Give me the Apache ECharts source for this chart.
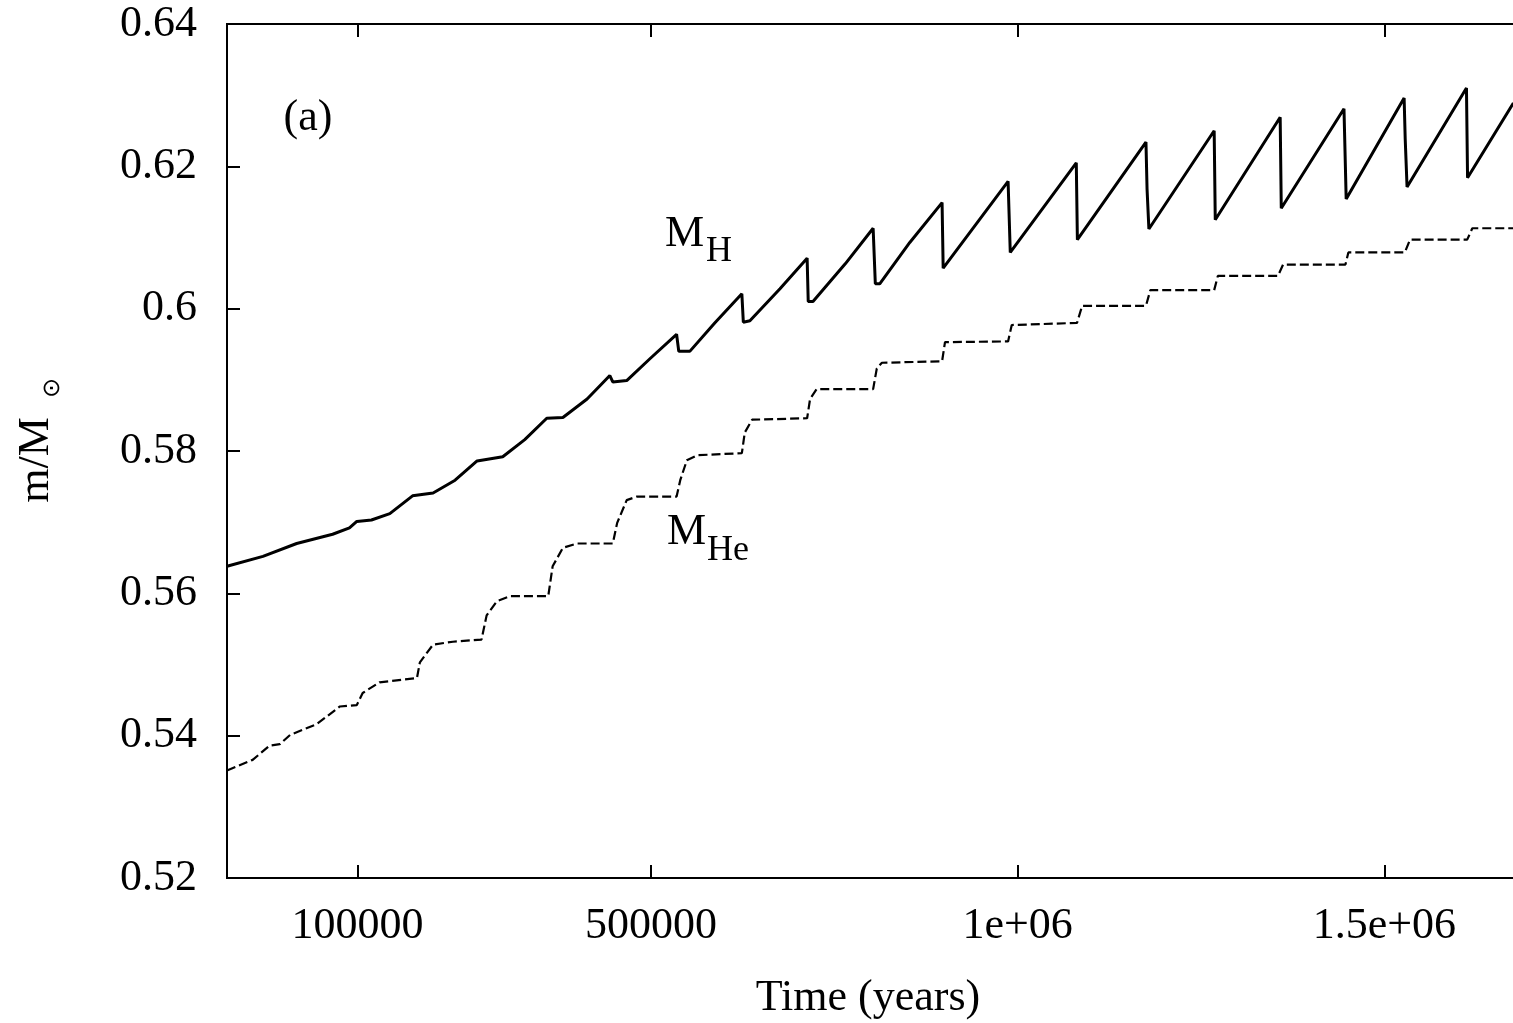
<!DOCTYPE html>
<html>
<head>
<meta charset="utf-8">
<title>m/M vs Time</title>
<script src="https://cdn.jsdelivr.net/npm/echarts@6/dist/echarts.min.js"></script>
<style>
  html, body { margin: 0; padding: 0; background: #fff; }
  #chartMass { width: 1513px; height: 1023px; }
</style>
</head>
<body>
<div id="chartMass"></div>
<script>
	//M_H 曲线: 时间(年) 与 质量
	var timeH = [-78000, -29000, 17000, 66000, 89000, 99000, 119000, 144000, 175000, 203000,
		233000, 263000, 298000, 328000, 358000, 380000, 413000, 444000, 448000, 467000,
		499000, 535000, 538000, 553000, 587000, 624000, 626000, 635000, 676000, 713000,
		714500, 721000, 765000, 803000, 806000, 812000, 853000, 897000, 898500, 987000,
		990000, 1080000, 1081500, 1175000, 1176500, 1179000, 1268000, 1269500, 1358000, 1359500,
		1445000, 1448000, 1527000, 1528500, 1531000, 1612000, 1613500, 1676000];
	var massH = [0.5638, 0.5652, 0.5670, 0.5683, 0.5692, 0.5701, 0.5703, 0.5712, 0.5737, 0.5741,
		0.5759, 0.5786, 0.5792, 0.5816, 0.5846, 0.5847, 0.5873, 0.5906, 0.5897, 0.5899,
		0.5930, 0.5964, 0.5940, 0.5940, 0.5980, 0.6021, 0.5981, 0.5983, 0.6028, 0.6071,
		0.6010, 0.6010, 0.6063, 0.6113, 0.6035, 0.6035, 0.6093, 0.6149, 0.6057, 0.6179,
		0.6079, 0.6205, 0.6097, 0.6234, 0.6168, 0.6112, 0.6250, 0.6125, 0.6269, 0.6141,
		0.6281, 0.6154, 0.6296, 0.6238, 0.6171, 0.6310, 0.6184, 0.6289];

	//M_He 曲线 (阶梯)
	var timeHe = [-78000, -43000, -20000, -6000, 8000, 44000, 76000, 99000, 107000, 130000,
		181000, 185000, 203000, 230000, 269000, 276000, 290000, 308000, 360000, 366000,
		380000, 399000, 448000, 454000, 467000, 481000, 535000, 540000, 549000, 563000,
		624000, 628000, 638000, 713000, 717000, 726000, 803000, 808000, 815000, 897000,
		901000, 987000, 992000, 1081000, 1088000, 1175000, 1181000, 1268000, 1273000, 1355000,
		1362000, 1447000, 1451000, 1528000, 1535000, 1613000, 1620000, 1676000];
	var massHe = [0.5351, 0.5366, 0.5386, 0.5388, 0.5401, 0.5416, 0.5441, 0.5443, 0.5460, 0.5475,
		0.5481, 0.5503, 0.5528, 0.5532, 0.5535, 0.5569, 0.5589, 0.5596, 0.5596, 0.5638,
		0.5664, 0.5670, 0.5670, 0.5699, 0.5731, 0.5736, 0.5736, 0.5759, 0.5787, 0.5794,
		0.5797, 0.5826, 0.5844, 0.5846, 0.5873, 0.5887, 0.5887, 0.5916, 0.5924, 0.5926,
		0.5953, 0.5954, 0.5977, 0.5980, 0.6004, 0.6004, 0.6026, 0.6026, 0.6046, 0.6046,
		0.6062, 0.6062, 0.6079, 0.6079, 0.6097, 0.6097, 0.6113, 0.6113];

	//坐标轴刻度
	var xTickValues = [100000, 500000, 1000000, 1500000];
	var xTickLabels = ['100000', '500000', '1e+06', '1.5e+06'];

	var FONT = '"Liberation Serif", "Times New Roman", serif';
	var chartMass = echarts.init(document.getElementById('chartMass'));

	function toPairs(xs, ys) {
		var out = [];
		for (var i = 0; i < xs.length; i++) {
			out.push([xs[i], ys[i]]);
		}
		return out;
	}

	var tickStyle = {inside: true, length: 13, lineStyle: {color: '#000', width: 2}};

	chartMass.setOption({
		animation: false,
		backgroundColor: '#fff',
		grid: {
			left: 227, top: 24, width: 1304, height: 854,
			outerBoundsMode: 'none', containLabel: false,
			show: true, borderColor: '#000', borderWidth: 2
		},
		xAxis: [{
			type: 'value', min: -78000, max: 1700000, position: 'bottom',
			axisLine: {show: false, onZero: false},
			splitLine: {show: false},
			axisTick: {inside: true, length: 13, customValues: xTickValues, lineStyle: {color: '#000', width: 2}},
			axisLabel: {
				customValues: xTickValues,
				formatter: function (v) { return xTickLabels[xTickValues.indexOf(v)]; },
				color: '#000', fontFamily: FONT, fontSize: 44, margin: 26
			}
		}, {
			type: 'value', min: -78000, max: 1700000, position: 'top',
			axisLine: {show: false, onZero: false},
			splitLine: {show: false},
			axisTick: {inside: true, length: 13, customValues: xTickValues, lineStyle: {color: '#000', width: 2}},
			axisLabel: {show: false}
		}],
		yAxis: {
			type: 'value', min: 0.52, max: 0.64, interval: 0.02,
			axisLine: {show: false, onZero: false},
			splitLine: {show: false},
			axisTick: tickStyle,
			axisLabel: {
				formatter: function (v) { return String(Number(v.toFixed(2))); },
				color: '#000', fontFamily: FONT, fontSize: 44, margin: 30
			}
		},
		series: [{
			name: 'M_H',
			type: 'line',
			data: toPairs(timeH, massH),
			showSymbol: false,
			lineStyle: {color: '#000', width: 3}
		}, {
			name: 'M_He',
			type: 'line',
			data: toPairs(timeHe, massHe),
			showSymbol: false,
			lineStyle: {color: '#000', width: 2.2, type: [9, 4]}
		}],
		graphic: [
			{type: 'text', x: 308, y: 118, style: {text: '(a)', fontFamily: FONT, fontSize: 44, fill: '#000', align: 'center', verticalAlign: 'middle'}},
			{type: 'text', x: 665, y: 234, style: {text: 'M', fontFamily: FONT, fontSize: 44, fill: '#000', align: 'left', verticalAlign: 'middle'}},
			{type: 'text', x: 706, y: 252, style: {text: 'H', fontFamily: FONT, fontSize: 36, fill: '#000', align: 'left', verticalAlign: 'middle'}},
			{type: 'text', x: 667, y: 532, style: {text: 'M', fontFamily: FONT, fontSize: 44, fill: '#000', align: 'left', verticalAlign: 'middle'}},
			{type: 'text', x: 707, y: 551, style: {text: 'He', fontFamily: FONT, fontSize: 36, fill: '#000', align: 'left', verticalAlign: 'middle'}},
			{type: 'text', x: 868, y: 998, style: {text: 'Time (years)', fontFamily: FONT, fontSize: 44, fill: '#000', align: 'center', verticalAlign: 'middle'}},
			{type: 'text', x: 36, y: 460, rotation: Math.PI / 2, style: {text: 'm/M', fontFamily: FONT, fontSize: 44, fill: '#000', align: 'center', verticalAlign: 'middle'}},
			{type: 'text', x: 53, y: 388, rotation: Math.PI / 2, style: {text: '⊙', fontFamily: FONT, fontSize: 24, fill: '#000', align: 'center', verticalAlign: 'middle'}}
		]
	});
</script>
</body>
</html>
